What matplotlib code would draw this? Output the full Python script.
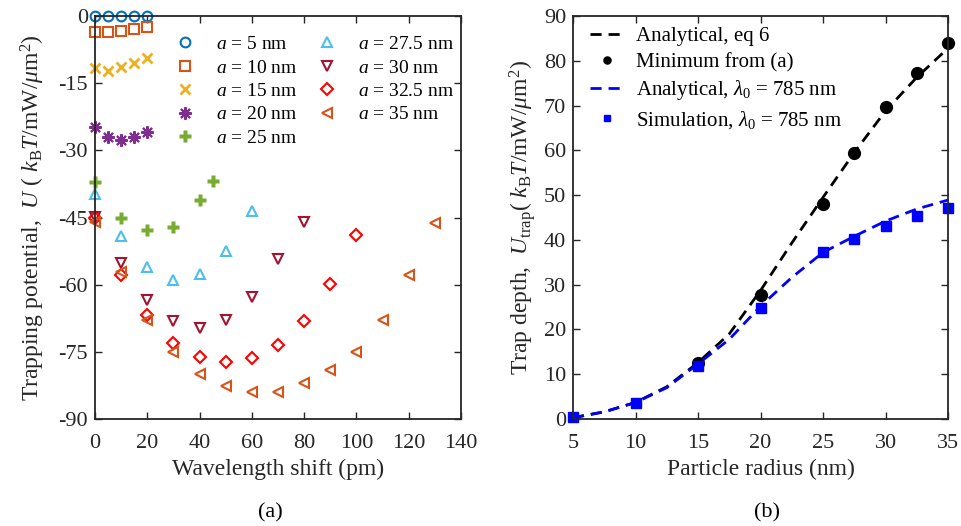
import matplotlib
matplotlib.use('Agg')
import matplotlib.pyplot as plt

plt.rcParams['font.family'] = ['Liberation Serif', 'DejaVu Serif']
plt.rcParams['mathtext.fontset'] = 'custom'
plt.rcParams['mathtext.rm'] = 'Liberation Serif'
plt.rcParams['mathtext.it'] = 'Liberation Serif:italic'
plt.rcParams['mathtext.cal'] = 'Liberation Serif:italic'
plt.rcParams['axes.unicode_minus'] = False

# ---- panel (a): trapping potential vs wavelength shift ----
shift_5 = [0, 5, 10, 15, 20]
pot_5 = [-0.1, -0.1, -0.1, -0.1, -0.1]
shift_10 = [0, 5, 10, 15, 20]
pot_10 = [-3.5, -3.6, -3.3, -2.9, -2.4]
shift_15 = [0, 5, 10, 15, 20]
pot_15 = [-11.7, -12.2, -11.5, -10.4, -9.3]
shift_20 = [0, 5, 10, 15, 20]
pot_20 = [-24.9, -27.0, -27.7, -27.1, -26.0]
shift_25 = [0, 10, 20, 30, 40, 45]
pot_25 = [-37.0, -45.0, -47.9, -47.2, -41.1, -36.9]
shift_275 = [0, 10, 20, 30, 40, 50, 60]
pot_275 = [-39.7, -49.1, -56.1, -59.0, -57.7, -52.4, -43.5]
shift_30 = [0, 10, 20, 30, 40, 50, 60, 70, 80]
pot_30 = [-44.8, -55.2, -63.4, -68.1, -69.7, -67.9, -62.7, -54.3, -46.1]
shift_325 = [0, 10, 20, 30, 40, 50, 60, 70, 80, 90, 100]
pot_325 = [-45.1, -57.8, -66.8, -73.0, -76.2, -77.3, -76.3, -73.5, -68.1, -59.9, -48.9]
shift_35 = [0, 10, 20, 30, 40, 50, 60, 70, 80, 90, 100, 110, 120, 130]
pot_35 = [-45.9, -57.1, -68.0, -75.0, -80.0, -82.6, -83.9, -83.9, -82.0,
          -79.1, -75.0, -68.0, -57.8, -46.3]

series_a = [
    (shift_5, pot_5, 'o', '#0072BD', '5'),
    (shift_10, pot_10, 's', '#D95319', '10'),
    (shift_15, pot_15, 'x', '#EDB120', '15'),
    (shift_20, pot_20, (8, 2, 0), '#7E2F8E', '20'),
    (shift_25, pot_25, 'P', '#77AC30', '25'),
    (shift_275, pot_275, '^', '#4DBEEE', '27.5'),
    (shift_30, pot_30, 'v', '#A2142F', '30'),
    (shift_325, pot_325, 'D', '#FF0000', '32.5'),
    (shift_35, pot_35, '<', '#D95319', '35'),
]

# ---- panel (b): trap depth vs particle radius ----
radius_eq6 = [5, 7.5, 10, 12.5, 15, 17.5, 20, 22.5, 25, 27.5, 30, 32.5, 35]
depth_eq6 = [0.3, 1.6, 3.7, 7.2, 12.6, 19.0, 28.7, 39.3, 49.5, 59.5, 68.8, 76.3, 82.8]
radius_min = [15, 20, 25, 27.5, 30, 32.5, 35]
depth_min = [12.6, 27.8, 48.0, 59.4, 69.6, 77.3, 83.9]
radius_785 = [5, 7.5, 10, 12.5, 15, 17.5, 20, 22.5, 25, 27.5, 30, 32.5, 35]
depth_785 = [0.3, 1.6, 3.7, 7.0, 12.3, 17.8, 25.2, 31.6, 37.2, 40.8, 44.2, 46.9, 48.9]
radius_sim = [5, 10, 15, 20, 25, 27.5, 30, 32.5, 35]
depth_sim = [0.5, 3.6, 11.9, 24.9, 37.3, 40.1, 43.1, 45.3, 47.1]

fig = plt.figure(figsize=(9.61, 5.26), dpi=100)
ax1 = fig.add_axes([0.0989, 0.2034, 0.3808, 0.7662])
ax2 = fig.add_axes([0.5963, 0.2034, 0.3902, 0.7662])

for xs, ys, mk, col, lab in series_a:
    label = r'$a$ = %s nm' % lab
    if mk == 'P':
        ax1.plot(xs, ys, linestyle='none', marker='P', ms=9, mfc=col, mec='none',
                 label=label, clip_on=False)
    elif isinstance(mk, tuple):
        ax1.plot(xs, ys, linestyle='none', marker=mk, ms=9, mec=col, mew=1.5,
                 label=label, clip_on=False)
    elif mk == 'x':
        ax1.plot(xs, ys, linestyle='none', marker=mk, ms=7, mec=col, mew=2,
                 label=label, clip_on=False)
    else:
        ax1.plot(xs, ys, linestyle='none', marker=mk, ms=7 if mk != 'D' else 6,
                 mfc='none', mec=col, mew=1.5, label=label, clip_on=False)

ax1.set_xlim(0, 140)
ax1.set_ylim(-90, 0)
ax1.set_xticks(range(0, 141, 20))
ax1.set_yticks(range(-90, 1, 15))
ax1.set_xlabel('Wavelength shift (pm)', fontsize=17, labelpad=4)
ax1.set_ylabel(r'Trapping potential,  $U$ ( $k_{\rm B}T$/mW/$\mu$m$^2$)', fontsize=17,
               labelpad=8)
ax1.legend(loc='upper left', bbox_to_anchor=(0.155, 0.995), ncol=2, frameon=False,
           fontsize=14, handletextpad=0.8, columnspacing=0.7, labelspacing=0.3,
           handlelength=1.6)

ax2.plot(radius_eq6, depth_eq6, color='black', lw=2, dashes=(4, 2.5),
         label='Analytical, eq 6')
ax2.plot(radius_min, depth_min, linestyle='none', marker='o', ms=8.5, color='black',
         label='Minimum from (a)', clip_on=False)
ax2.plot(radius_785, depth_785, color='#0000FF', lw=2, dashes=(4, 2.5),
         label=r'Analytical, $\lambda_0$ = 785 nm')
ax2.plot(radius_sim, depth_sim, linestyle='none', marker='s', ms=7, color='#0000FF',
         label=r'Simulation, $\lambda_0$ = 785 nm', clip_on=False)
ax2.set_xlim(5, 35)
ax2.set_ylim(0, 90)
ax2.set_xticks(range(5, 36, 5))
ax2.set_yticks(range(0, 91, 10))
ax2.set_xlabel('Particle radius (nm)', fontsize=17, labelpad=4)
ax2.set_ylabel(r'Trap depth,  $U_{\rm trap}$( $k_{\rm B}T$/mW/$\mu$m$^2$)', fontsize=17)
ax2.legend(loc='upper left', bbox_to_anchor=(-0.005, 1.02), frameon=False, fontsize=15,
           handlelength=1.6, handletextpad=0.6, labelspacing=0.3, markerscale=0.6)

for ax in (ax1, ax2):
    ax.tick_params(direction='in', top=True, right=True, labelsize=16, length=5,
                   width=1, colors='#262626', pad=5)
    ax.tick_params(axis='x', pad=11)
    for sp in ax.spines.values():
        sp.set_linewidth(1.3)
        sp.set_color('#262626')
    ax.xaxis.label.set_color('#262626')
    ax.yaxis.label.set_color('#262626')

fig.text(0.2815, 0.025, '(a)', ha='center', va='center', fontsize=16)
fig.text(0.798, 0.025, '(b)', ha='center', va='center', fontsize=16)

fig.savefig('out.png', dpi=100)
